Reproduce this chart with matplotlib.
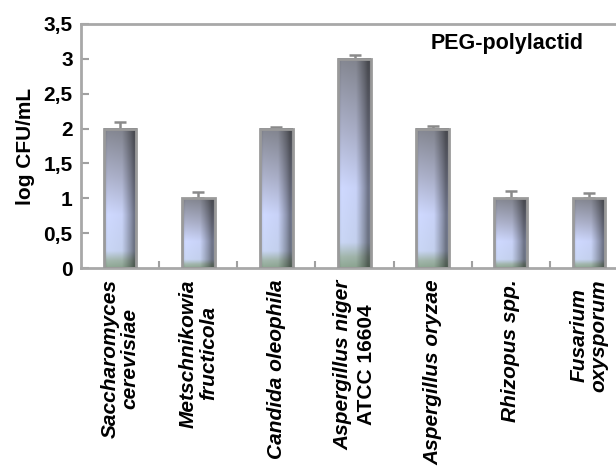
import numpy as np
import matplotlib
matplotlib.use("Agg")
import matplotlib.pyplot as plt
from matplotlib import transforms

plt.rcParams['font.family'] = ['Liberation Sans', 'DejaVu Sans']
plt.rcParams['font.weight'] = 'bold'

# data
strains = ["Saccharomyces\ncerevisiae", "Metschnikowia\nfructicola", "Candida oleophila",
           "Aspergillus niger\nATCC 16604", "Aspergillus oryzae", "Rhizopus spp.",
           "Fusarium\noxysporum"]
log_cfu = [2.0, 1.0, 2.0, 3.0, 2.0, 1.0, 1.0]
err_up = [0.10, 0.09, 0.02, 0.05, 0.03, 0.10, 0.08]
yticks = [0, 0.5, 1, 1.5, 2, 2.5, 3, 3.5]
ytick_labels = ["0", "0,5", "1", "1,5", "2", "2,5", "3", "3,5"]

fig = plt.figure(figsize=(6.16, 4.67), dpi=100)
ax = fig.add_axes([81/616, 1-268/467, 547/616, 244/467])

# gradient fill for bars: gray top -> pale blue -> greenish bottom, dark right edge
t = np.linspace(0, 1, 120)
v_stops = [0, 0.35, 0.62, 0.88, 0.95, 1.0]
v_cols = np.array([[0.52, 0.53, 0.57], [0.68, 0.70, 0.80], [0.81, 0.85, 1.0],
                   [0.79, 0.84, 0.96], [0.64, 0.72, 0.68], [0.56, 0.66, 0.58]])
vert = np.stack([np.interp(t, v_stops, v_cols[:, c]) for c in range(3)], axis=1)
s = np.linspace(0, 1, 40)
horiz = np.interp(s, [0, 0.1, 0.55, 0.78, 0.93, 1.0], [0.88, 1.0, 0.97, 0.72, 0.52, 0.6])
img = np.clip(vert[:, None, :] * horiz[None, :, None], 0, 1)

w = 0.42
x = np.arange(len(strains))
for xi, v in zip(x, log_cfu):
    ax.imshow(img, extent=[xi - w/2, xi + w/2, 0, v], aspect='auto', zorder=2,
              interpolation='bilinear')
ax.bar(x, log_cfu, width=w, facecolor='none', edgecolor='#9a9a9a', linewidth=2, zorder=3)
ax.errorbar(x, log_cfu, yerr=[np.zeros(len(x)), err_up], fmt='none', ecolor='#8a8a8a',
            elinewidth=1.8, capsize=4, capthick=1.8, zorder=1)

ax.set_xlim(-0.5, len(strains) - 0.5)
ax.set_ylim(0, 3.5)
ax.set_yticks(yticks)
ax.set_yticklabels(ytick_labels, fontsize=15, fontweight='bold')
ax.set_xticks(x)
ax.set_xticklabels([])
ax.set_xticks(np.arange(0.5, len(strains) - 0.5), minor=True)
ax.tick_params(axis='x', which='major', length=0)
ax.tick_params(axis='x', which='minor', direction='in', length=5, width=1.5, color='#a0a0a0')
ax.tick_params(axis='y', direction='in', length=6, width=1.5, color='#a0a0a0', pad=6)
for sp in ax.spines.values():
    sp.set_color('#a8a8a8')
    sp.set_linewidth(2)
ax.set_ylabel("log CFU/mL", fontsize=15, fontweight='bold', labelpad=6)

# category labels, rotated
for xi, name in zip(x, strains):
    if name.startswith("Aspergillus niger"):
        l1, l2 = name.split("\n")
        tr1 = transforms.offset_copy(ax.get_xaxis_transform(), fig=fig, x=-11.5, y=-97, units='dots')
        tr2 = transforms.offset_copy(ax.get_xaxis_transform(), fig=fig, x=11.5, y=-97, units='dots')
        ax.text(xi, 0, l1, transform=tr1, rotation=90, ha='center', va='center',
                fontsize=15, fontweight='bold', style='italic')
        ax.text(xi, 0, l2, transform=tr2, rotation=90, ha='center', va='center',
                fontsize=15, fontweight='bold')
    else:
        tr = transforms.offset_copy(ax.get_xaxis_transform(), fig=fig, x=0, y=-11, units='dots')
        ax.text(xi, 0, name, transform=tr, rotation=90, ha='center', va='top',
                multialignment='center', linespacing=1.1,
                fontsize=15, fontweight='bold', style='italic')

ax.text(0.779, 0.922, "PEG-polylactid", transform=ax.transAxes, ha='center', va='center',
        fontsize=15.5, fontweight='bold')

fig.savefig("out.png", dpi=100)
